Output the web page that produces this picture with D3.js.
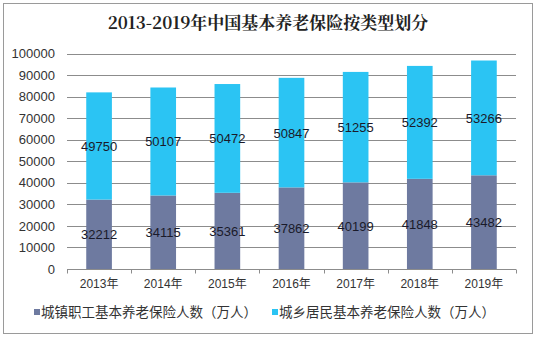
<!DOCTYPE html>
<html><head><meta charset="utf-8">
<script src="https://cdn.jsdelivr.net/npm/d3@7/dist/d3.min.js"></script>
<style>body{margin:0;background:#fff}svg{display:block}</style>
</head><body>
<svg id="c" width="536" height="339"></svg>
<script>
const categories = ["2013年","2014年","2015年","2016年","2017年","2018年","2019年"];
const urbanWorkers = [32212,34115,35361,37862,40199,41848,43482];
const ruralResidents = [49750,50107,50472,50847,51255,52392,53266];
const seriesNames = ["城镇职工基本养老保险人数（万人）","城乡居民基本养老保险人数（万人）"];
const yTicks = [0,10000,20000,30000,40000,50000,60000,70000,80000,90000,100000];
const title = "2013-2019年中国基本养老保险按类型划分";
const colors = ["#6E7AA0","#2BC4F3"];

const svg = d3.select("#c");
const cjk = "'Liberation Sans', Arial, 'Noto Sans CJK SC', sans-serif";
svg.append("rect").attr("x",3.5).attr("y",3.5).attr("width",529).attr("height",330)
  .attr("fill","#fff").attr("stroke","#9a9a9a").attr("stroke-width",1);

svg.append("text").attr("x",268).attr("y",29).attr("text-anchor","middle")
  .attr("font-family","'Noto Serif CJK SC','Noto Sans CJK SC',serif").attr("font-weight","bold")
  .attr("font-size",17).attr("fill","#222").text(title);

const x = d3.scaleBand().domain(categories).range([67,516]).paddingInner(0.6).paddingOuter(0.3);
const y = d3.scaleLinear().domain([0,100000]).range([269,53.5]);

const grid = svg.append("g");
grid.selectAll("line").data(yTicks.filter(d=>d>0)).join("line")
  .attr("x1",67).attr("x2",516).attr("y1",d=>Math.round(y(d))+0.5).attr("y2",d=>Math.round(y(d))+0.5)
  .attr("stroke","#8c8c8c").attr("stroke-width",1);

const yAxis = svg.append("g").attr("transform","translate(67,0)")
  .call(d3.axisLeft(y).tickValues(yTicks).tickSize(0).tickPadding(12).tickFormat(d3.format("d")));
yAxis.select(".domain").remove();
yAxis.selectAll("text").attr("font-family",cjk).attr("font-size",13).attr("fill","#333");

const stack = categories.map((c,i)=>({c, a:urbanWorkers[i], b:ruralResidents[i]}));
const bars = svg.append("g");
bars.selectAll(".a").data(stack).join("rect").attr("class","a")
  .attr("x",d=>x(d.c)).attr("width",x.bandwidth())
  .attr("y",d=>y(d.a)).attr("height",d=>y(0)-y(d.a)).attr("fill",colors[0]);
bars.selectAll(".b").data(stack).join("rect").attr("class","b")
  .attr("x",d=>x(d.c)).attr("width",x.bandwidth())
  .attr("y",d=>y(d.a+d.b)).attr("height",d=>y(d.a)-y(d.a+d.b)).attr("fill",colors[1]);

const lab = svg.append("g").attr("font-family",cjk).attr("font-size",13).attr("fill","#1a1a2a").attr("text-anchor","middle");
lab.selectAll(".la").data(stack).join("text").attr("class","la")
  .attr("x",d=>x(d.c)+x.bandwidth()/2).attr("y",d=>y(d.a/2)+5).text(d=>d.a);
lab.selectAll(".lb").data(stack).join("text").attr("class","lb")
  .attr("x",d=>x(d.c)+x.bandwidth()/2).attr("y",d=>y(d.a+d.b/2)+5).text(d=>d.b);

const xAxisScale = d3.scalePoint().domain(categories).range([67,516]);
const xa = svg.append("g").attr("transform","translate(0,269.5)");
xa.append("line").attr("x1",67).attr("x2",516).attr("stroke","#8c8c8c");
const step = (516-67)/categories.length;
xa.selectAll(".tk").data(d3.range(categories.length+1)).join("line").attr("class","tk")
  .attr("x1",i=>Math.round(67+i*step)+0.5).attr("x2",i=>Math.round(67+i*step)+0.5).attr("y1",0).attr("y2",4)
  .attr("stroke","#8c8c8c");
xa.selectAll("text").data(categories).join("text")
  .attr("x",d=>x(d)+x.bandwidth()/2).attr("y",18).attr("text-anchor","middle")
  .attr("font-family",cjk).attr("font-size",12).attr("fill","#333").text(d=>d);

const legend = svg.append("g").attr("font-family","'Noto Sans CJK SC',sans-serif").attr("font-size",13.5).attr("fill","#333");
const lx = [34,272];
seriesNames.forEach((n,i)=>{
  legend.append("rect").attr("x",lx[i]).attr("y",309).attr("width",6).attr("height",6).attr("fill",colors[i]);
  legend.append("text").attr("x",lx[i]+7).attr("y",317).text(n);
});
</script>
</body></html>
